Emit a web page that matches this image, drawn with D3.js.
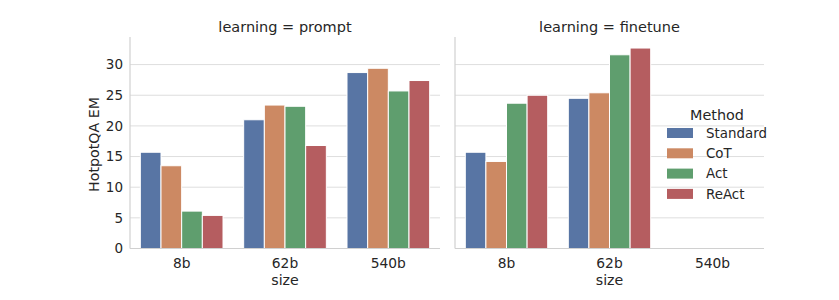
<!DOCTYPE html>
<html>
<head>
<meta charset="utf-8">
<script src="https://cdn.jsdelivr.net/npm/d3@7"></script>
<style>
  body { margin: 0; background: #fff; }
  text { font-family: "DejaVu Sans", sans-serif; fill: #262626; }
</style>
</head>
<body>
<div id="container"></div>
<script>
/* DATA */
const sizes = ["8b", "62b", "540b"];
const methods = ["Standard", "CoT", "Act", "ReAct"];
const colors = ["#5875A4", "#CC8963", "#5F9E6E", "#B55D60"];
const yTicks = [0, 5, 10, 15, 20, 25, 30];
// values per size, in method order
const promptValues = [
  [15.7, 13.5, 6.1, 5.4],
  [21.0, 23.4, 23.2, 16.8],
  [28.7, 29.4, 25.7, 27.4]
];
const finetuneValues = [
  [15.7, 14.2, 23.7, 25.0],
  [24.5, 25.4, 31.6, 32.7],
  null
];
const panels = [
  { title: "learning = prompt", values: promptValues, x0: 130, x1: 440 },
  { title: "learning = finetune", values: finetuneValues, x0: 455, x1: 764 }
];

/* CONSTANTS */
const width = 839, height = 300;
const plotTop = 37, plotBottom = 248.5;

const svg = d3.select("#container").append("svg")
  .attr("width", width).attr("height", height);

const yScale = d3.scaleLinear().domain([0, 34.5]).range([plotBottom, plotTop]);

panels.forEach((p, pi) => {
  const g = svg.append("g");
  const xScale = d3.scaleBand().domain(sizes).range([p.x0, p.x1]);
  const xc = d => xScale(d) + xScale.bandwidth() / 2;
  const inner = d3.scaleBand().domain(methods).range([0, xScale.bandwidth() * 0.8]);

  // grid
  g.selectAll(".grid").data(yTicks).join("line")
    .attr("x1", p.x0).attr("x2", p.x1)
    .attr("y1", d => yScale(d)).attr("y2", d => yScale(d))
    .attr("stroke", "#dedede").attr("stroke-width", 1);

  // bars
  p.values.forEach((vals, si) => {
    if (!vals) return;
    const left = xc(sizes[si]) - xScale.bandwidth() * 0.4;
    g.selectAll(null).data(vals).join("rect")
      .attr("x", (d, i) => left + inner(methods[i]))
      .attr("y", d => yScale(d))
      .attr("width", inner.bandwidth())
      .attr("height", d => plotBottom - yScale(d))
      .attr("fill", (d, i) => colors[i])
      .attr("stroke", "#fff").attr("stroke-width", 1);
  });

  // spines
  g.append("line").attr("x1", p.x0).attr("x2", p.x0).attr("y1", plotTop).attr("y2", plotBottom)
    .attr("stroke", "#d0d0d0").attr("stroke-width", 1.2);
  g.append("line").attr("x1", p.x0).attr("x2", p.x1).attr("y1", plotBottom).attr("y2", plotBottom)
    .attr("stroke", "#d0d0d0").attr("stroke-width", 1.2);

  // x ticks
  g.selectAll(".xt").data(sizes).join("text")
    .attr("x", d => xc(d)).attr("y", 268)
    .attr("text-anchor", "middle").attr("font-size", 13.8)
    .text(d => d);
  g.append("text").attr("x", (p.x0 + p.x1) / 2).attr("y", 285)
    .attr("text-anchor", "middle").attr("font-size", 14.2).text("size");

  // title
  g.append("text").attr("x", (p.x0 + p.x1) / 2).attr("y", 32)
    .attr("text-anchor", "middle").attr("font-size", 14.5).text(p.title);

  if (pi === 0) {
    g.selectAll(".yt").data(yTicks).join("text")
      .attr("x", p.x0 - 7).attr("y", d => yScale(d)).attr("dy", "0.35em")
      .attr("text-anchor", "end").attr("font-size", 13.5)
      .text(d => d);
    g.append("text")
      .attr("transform", `translate(${98.5},${144.5}) rotate(-90)`)
      .attr("text-anchor", "middle").attr("font-size", 14.2).text("HotpotQA EM");
  }
});

// legend
const lg = svg.append("g").attr("transform", "translate(667,0)");
lg.append("text").attr("x", 50).attr("y", 120).attr("text-anchor", "middle")
  .attr("font-size", 14.4).text("Method");
methods.forEach((m, i) => {
  const y = 133 + i * 20.3;
  lg.append("rect").attr("x", 0).attr("y", y - 5).attr("width", 26).attr("height", 10)
    .attr("fill", colors[i]);
  lg.append("text").attr("x", 39).attr("y", y).attr("dy", "0.35em")
    .attr("font-size", 13.4).text(m);
});
</script>
</body>
</html>
